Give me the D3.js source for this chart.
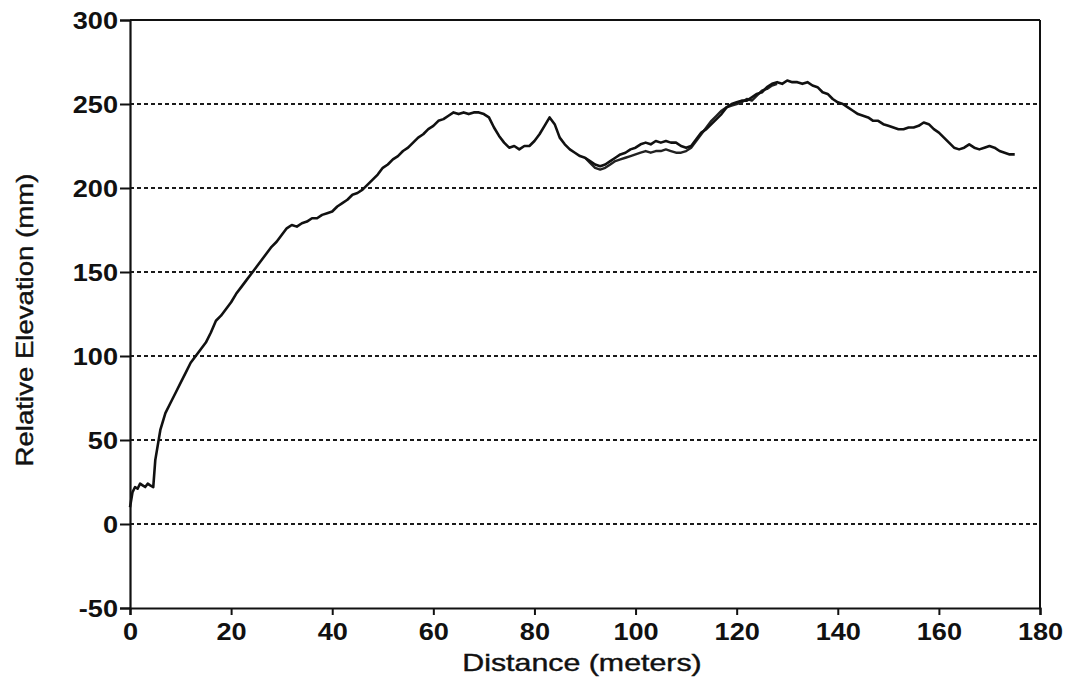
<!DOCTYPE html>
<html>
<head>
<meta charset="utf-8">
<script src="https://cdn.jsdelivr.net/npm/d3@7"></script>
<style>
  html, body { margin: 0; padding: 0; background: #fff; }
  svg { display: block; }
  text { font-family: "Liberation Sans", Arial, sans-serif; fill: #111; }
</style>
</head>
<body>
<svg id="chart" width="1074" height="684"></svg>
<script>
// Surveyed profile: [distance (m), relative elevation (mm)]
const profile = [
  [0, 10], [0.5, 19], [1, 22], [1.5, 21], [2, 24], [2.5, 23], [3, 22], [3.5, 24], [4, 23], [4.6, 22],
  [5, 38], [6, 56], [7, 66], [8, 72], [9, 78], [10, 84], [11, 90], [12, 96], [13, 100], [14, 104],
  [15, 108], [16, 114], [17, 121], [18, 124], [19, 128], [20, 132], [21, 137], [22, 141], [23, 145], [24, 149],
  [25, 153], [26, 157], [27, 161], [28, 165], [29, 168], [30, 172], [31, 176], [32, 178], [33, 177], [34, 179],
  [35, 180], [36, 182], [37, 182], [38, 184], [39, 185], [40, 186], [41, 189], [42, 191], [43, 193], [44, 196],
  [45, 197], [46, 199], [47, 202], [48, 205], [49, 208], [50, 212], [51, 214], [52, 217], [53, 219], [54, 222],
  [55, 224], [56, 227], [57, 230], [58, 232], [59, 235], [60, 237], [61, 240], [62, 241], [63, 243], [64, 245],
  [65, 244], [66, 245], [67, 244], [68, 245], [69, 245], [70, 244], [71, 242], [72, 236], [73, 231], [74, 227],
  [75, 224], [76, 225], [77, 223], [78, 225], [79, 225], [80, 228], [81, 232], [82, 237], [83, 242], [84, 238],
  [85, 230], [86, 226], [87, 223], [88, 221], [89, 219], [90, 218], [91, 216], [92, 214], [93, 213], [94, 214],
  [95, 216], [96, 218], [97, 220], [98, 221], [99, 223], [100, 224], [101, 226], [102, 227], [103, 226], [104, 228],
  [105, 227], [106, 228], [107, 227], [108, 227], [109, 225], [110, 224], [111, 225], [112, 229], [113, 233], [114, 235],
  [115, 238], [116, 241], [117, 244], [118, 248], [119, 250], [120, 251], [121, 252], [122, 252], [123, 254], [124, 256],
  [125, 257], [126, 260], [127, 262], [128, 263], [129, 262], [130, 264], [131, 263], [132, 263], [133, 262], [134, 263],
  [135, 261], [136, 260], [137, 257], [138, 256], [139, 253], [140, 251], [141, 250], [142, 248], [143, 246], [144, 244],
  [145, 243], [146, 242], [147, 240], [148, 240], [149, 238], [150, 237], [151, 236], [152, 235], [153, 235], [154, 236],
  [155, 236], [156, 237], [157, 239], [158, 238], [159, 235], [160, 233], [161, 230], [162, 227], [163, 224], [164, 223],
  [165, 224], [166, 226], [167, 224], [168, 223], [169, 224], [170, 225], [171, 224], [172, 222], [173, 221], [174, 220],
  [175, 220]
];

// Repeat pass over the middle of the line
const repeatPass = [
  [90, 218], [91, 215], [92, 212], [93, 211], [94, 212], [95, 214], [96, 216], [97, 217], [98, 218], [99, 219],
  [100, 220], [101, 221], [102, 222], [103, 221], [104, 222], [105, 222], [106, 223], [107, 222], [108, 221], [109, 221],
  [110, 222], [111, 224], [112, 228], [113, 232], [114, 236], [115, 240], [116, 243], [117, 246], [118, 248], [119, 249],
  [120, 250], [121, 251], [122, 253], [123, 252], [124, 255], [125, 258], [126, 259], [127, 261], [128, 262]
];

const xTicks = [0, 20, 40, 60, 80, 100, 120, 140, 160, 180];
const yTicks = [-50, 0, 50, 100, 150, 200, 250, 300];
const gridValues = [0, 50, 100, 150, 200, 250];
const xTitle = "Distance (meters)";
const yTitle = "Relative Elevation (mm)";

const plot = { left: 130, right: 1040, top: 20, bottom: 608 };
const svg = d3.select("#chart");

const x = d3.scaleLinear().domain([0, 180]).range([plot.left, plot.right]);
const y = d3.scaleLinear().domain([-50, 300]).range([plot.bottom, plot.top]);

// Dashed horizontal grid
svg.append("g")
  .selectAll("line")
  .data(gridValues)
  .join("line")
  .attr("x1", plot.left).attr("x2", plot.right)
  .attr("y1", d => y(d)).attr("y2", d => y(d))
  .attr("stroke", "#1a1a1a")
  .attr("stroke-width", 1.8)
  .attr("stroke-dasharray", "4,3");

// Frame (top and right)
svg.append("line")
  .attr("x1", plot.left).attr("x2", plot.right)
  .attr("y1", plot.top).attr("y2", plot.top)
  .attr("stroke", "#111").attr("stroke-width", 2);
svg.append("line")
  .attr("x1", plot.right).attr("x2", plot.right)
  .attr("y1", plot.top).attr("y2", plot.bottom)
  .attr("stroke", "#111").attr("stroke-width", 2);

// Axes
const tickScale = 1.18;
const xAxis = svg.append("g")
  .attr("transform", `translate(0,${plot.bottom})`)
  .call(d3.axisBottom(x).tickValues(xTicks).tickSize(7).tickPadding(3).tickFormat(d => String(d)));
const yAxis = svg.append("g")
  .attr("transform", `translate(${plot.left},0)`)
  .call(d3.axisLeft(y).tickValues(yTicks).tickSize(10).tickPadding(2).tickFormat(d => String(d)));

[xAxis, yAxis].forEach(g => {
  g.select(".domain").attr("stroke", "#111").attr("stroke-width", 2.2);
  g.selectAll(".tick line").attr("stroke", "#111").attr("stroke-width", 2);
  g.selectAll(".tick text")
    .attr("fill", "#111")
    .style("font-family", "'Liberation Sans', Arial, sans-serif")
    .style("font-size", "23px")
    .style("font-weight", "bold");
});
yAxis.selectAll(".tick text")
  .attr("x", -12 / tickScale)
  .attr("dy", "0.36em")
  .attr("transform", `scale(${tickScale},1)`);
xAxis.selectAll(".tick text")
  .attr("dy", "0.95em")
  .attr("transform", `scale(${tickScale},1)`);

// Profile lines
const line = d3.line().x(d => x(d[0])).y(d => y(d[1]));
svg.append("path")
  .datum(repeatPass)
  .attr("d", line)
  .attr("fill", "none")
  .attr("stroke", "#222")
  .attr("stroke-width", 2.4)
  .attr("stroke-linejoin", "round");
svg.append("path")
  .datum(profile)
  .attr("d", line)
  .attr("fill", "none")
  .attr("stroke", "#111")
  .attr("stroke-width", 2.6)
  .attr("stroke-linejoin", "round");

// Axis titles
svg.append("text")
  .attr("transform", `translate(582,671) scale(1.32,1)`)
  .attr("text-anchor", "middle")
  .style("font-size", "23px")
  .attr("stroke", "#111")
  .attr("stroke-width", 0.4)
  .text(xTitle);
svg.append("text")
  .attr("transform", `translate(33,320) rotate(-90) scale(1.2,1)`)
  .attr("text-anchor", "middle")
  .style("font-size", "23px")
  .attr("stroke", "#111")
  .attr("stroke-width", 0.4)
  .text(yTitle);
</script>
</body>
</html>
